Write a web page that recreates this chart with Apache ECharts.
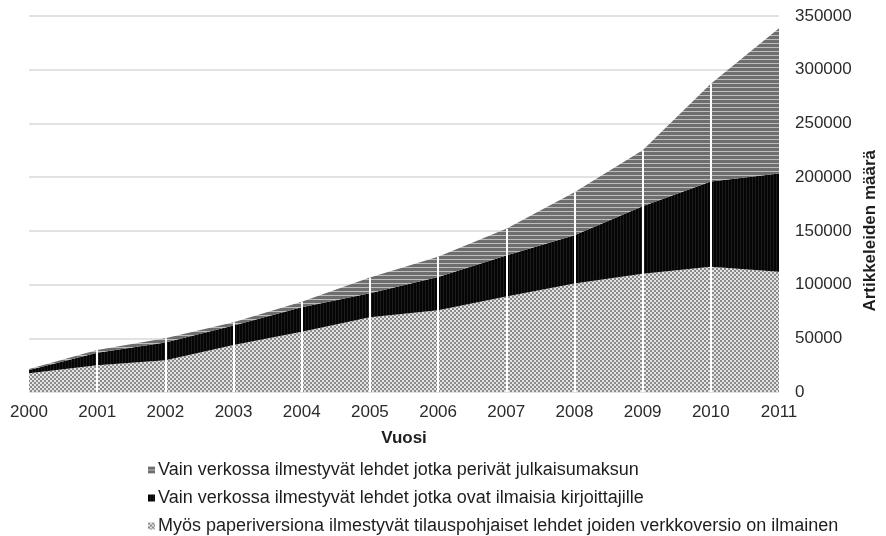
<!DOCTYPE html>
<html>
<head>
<meta charset="utf-8">
<script src="https://cdn.jsdelivr.net/npm/echarts@6/dist/echarts.min.js"></script>
<style>
html,body{margin:0;padding:0;background:#fff;}
#chart{width:886px;height:536px;}
</style>
</head>
<body>
<div id="chart"></div>
<script>
// ---- Data ----
const years = ['2000','2001','2002','2003','2004','2005','2006','2007','2008','2009','2010','2011'];
const yTicks = [0, 50000, 100000, 150000, 200000, 250000, 300000, 350000];
const seriesNames = [
  'Myös paperiversiona ilmestyvät tilauspohjaiset lehdet joiden verkkoversio on ilmainen',
  'Vain verkossa ilmestyvät lehdet jotka ovat ilmaisia kirjoittajille',
  'Vain verkossa ilmestyvät lehdet jotka perivät julkaisumaksun'
];
const printSubscription = [17500, 25000, 29500, 43700, 56000, 69500, 76000, 89000, 101000, 110000, 116500, 112000];
const onlineFree       = [3000, 11500, 16500, 18300, 23000, 22500, 31000, 38000, 45000, 63000, 79500, 91500];
const onlineAPC        = [800, 2500, 4000, 3000, 5000, 14500, 19000, 25000, 40000, 52000, 91000, 135000];

// ---- Patterns (styles only) ----
function makePattern(w, h, draw) {
  const c = document.createElement('canvas');
  c.width = w; c.height = h;
  const ctx = c.getContext('2d');
  draw(ctx);
  return { image: c, repeat: 'repeat' };
}
const checker = makePattern(4, 4, ctx => {
  ctx.fillStyle = '#e4e4e4'; ctx.fillRect(0, 0, 4, 4);
  ctx.fillStyle = '#8a8a8a'; ctx.fillRect(0, 0, 2, 2); ctx.fillRect(2, 2, 2, 2);
});
const blackStripe = makePattern(3, 3, ctx => {
  ctx.fillStyle = '#050505'; ctx.fillRect(0, 0, 3, 3);
  ctx.fillStyle = '#1c1c1c'; ctx.fillRect(2, 0, 1, 3);
});
const grayStripe = makePattern(4, 4, ctx => {
  ctx.fillStyle = '#6e6e6e'; ctx.fillRect(0, 0, 4, 4);
  ctx.fillStyle = '#bdbdbd'; ctx.fillRect(0, 3, 4, 1);
});

const totals = years.map((_, i) => printSubscription[i] + onlineFree[i] + onlineAPC[i]);
const dropLines = years.slice(1, years.length - 1).map((y, k) => [
  { coord: [y, 0] },
  { coord: [y, totals[k + 1]] }
]);

const chart = echarts.init(document.getElementById('chart'));
const fontFamily = '"Liberation Sans", Arial, sans-serif';

function areaSeries(name, data, pattern, extra) {
  return Object.assign({
    name: name,
    type: 'line',
    stack: 'total',
    data: data,
    symbol: 'none',
    lineStyle: { width: 0 },
    areaStyle: { color: pattern, opacity: 1 },
    itemStyle: { color: pattern },
    emphasis: { disabled: true },
    silent: true
  }, extra || {});
}

function legendFor(name, top) {
  return {
    orient: 'vertical',
    left: 143,
    top: top,
    itemWidth: 7,
    itemHeight: 7,
    icon: 'rect',
    selectedMode: false,
    data: [name],
    textStyle: { color: '#1e1e1e', fontSize: 18, fontFamily: fontFamily, padding: [0, 0, 0, -2] }
  };
}

chart.setOption({
  animation: false,
  backgroundColor: '#fff',
  textStyle: { fontFamily: fontFamily },
  grid: { left: 29, right: 107, top: 16, bottom: 144 },
  xAxis: {
    type: 'category',
    data: years,
    boundaryGap: false,
    axisLine: { show: false },
    axisTick: { show: false },
    splitLine: { show: false },
    axisLabel: { color: '#2b2b2b', fontSize: 17, margin: 12, fontFamily: fontFamily },
    name: 'Vuosi',
    nameLocation: 'middle',
    nameGap: 38,
    nameTextStyle: { color: '#1e1e1e', fontSize: 17, fontWeight: 'bold', fontFamily: fontFamily }
  },
  yAxis: {
    type: 'value',
    position: 'right',
    min: yTicks[0],
    max: yTicks[yTicks.length - 1],
    interval: yTicks[1] - yTicks[0],
    axisLine: { show: false },
    axisTick: { show: false },
    axisLabel: { color: '#2b2b2b', fontSize: 17, margin: 16, fontFamily: fontFamily, formatter: v => String(v) },
    splitLine: { lineStyle: { color: '#d9d9d9', width: 1.5 } }
  },
  legend: [
    legendFor(seriesNames[2], 456),
    legendFor(seriesNames[1], 484),
    legendFor(seriesNames[0], 512)
  ],
  graphic: [{
    type: 'text',
    left: 862,
    top: 150,
    rotation: Math.PI / 2,
    style: {
      text: 'Artikkeleiden määrä',
      fill: '#1e1e1e',
      font: 'bold 17px ' + fontFamily,
      textAlign: 'center',
      textVerticalAlign: 'middle'
    }
  }],
  series: [
    areaSeries(seriesNames[0], printSubscription, checker),
    areaSeries(seriesNames[1], onlineFree, blackStripe),
    areaSeries(seriesNames[2], onlineAPC, grayStripe, {
      markLine: {
        silent: true,
        symbol: 'none',
        z: 10,
        label: { show: false },
        lineStyle: { color: '#ffffff', width: 2, type: 'solid', opacity: 1 },
        emphasis: { disabled: true },
        data: dropLines
      }
    })
  ]
});
</script>
</body>
</html>
